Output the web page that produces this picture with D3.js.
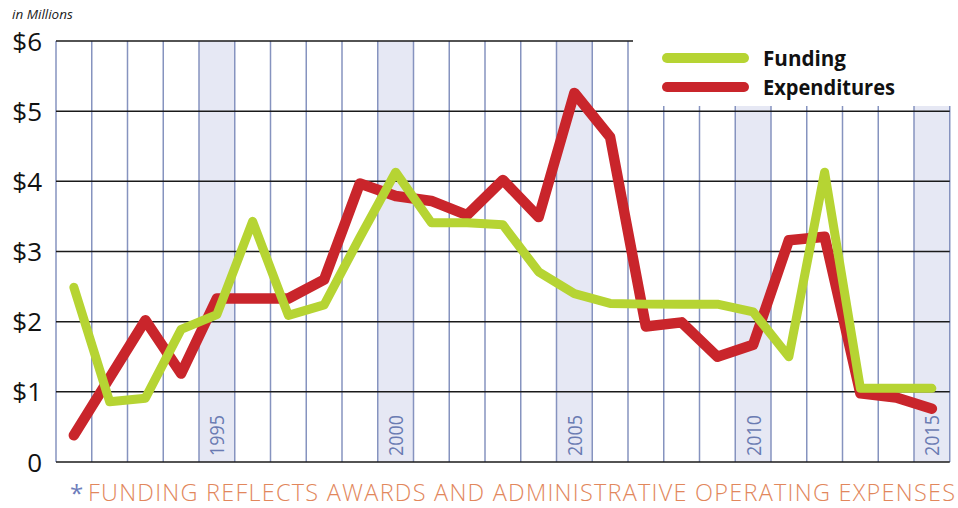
<!DOCTYPE html>
<html>
<head>
<meta charset="utf-8">
<script src="https://cdn.jsdelivr.net/npm/d3@7"></script>
<style>
  body { margin: 0; background: #fff; }
  svg { display: block; }
</style>
</head>
<body>
<svg id="chart" width="958" height="508"></svg>
<script>
// data
var years = d3.range(1991, 2016);
var funding = [2.49, 0.86, 0.91, 1.89, 2.1, 3.43, 2.09, 2.24, 3.2, 4.13,
               3.41, 3.41, 3.38, 2.71, 2.4, 2.26, 2.25, 2.25, 2.25, 2.14,
               1.5, 4.13, 1.05, 1.05, 1.05];
var expenditures = [0.38, 1.2, 2.02, 1.26, 2.33, 2.33, 2.33, 2.6, 3.97, 3.79,
                    3.72, 3.52, 4.02, 3.49, 5.26, 4.63, 1.93, 1.99, 1.5, 1.67,
                    3.16, 3.21, 0.98, 0.92, 0.76];
var yTicks = [0, 1, 2, 3, 4, 5, 6];
var yTickLabels = ["0", "$1", "$2", "$3", "$4", "$5", "$6"];
var labelYears = [1995, 2000, 2005, 2010, 2015];
var footnote = "FUNDING REFLECTS AWARDS AND ADMINISTRATIVE OPERATING EXPENSES";

var svg = d3.select("#chart");

var plotLeft = 56, plotRight = 949.75, plotTop = 41, plotBottom = 462;
var legendCutX = 628, legendCutY = 106;

var x = d3.scaleBand()
    .domain(years)
    .range([plotLeft, plotRight]);

var y = d3.scaleLinear()
    .domain([0, 6])
    .range([plotBottom, plotTop]);

var cx = function(yr) { return x(yr) + x.bandwidth() / 2; };

// top of a column (columns under the legend are cut short)
var colTop = function(xpos) { return xpos >= legendCutX + 1 ? legendCutY : plotTop; };

// shaded year bands
svg.append("g").selectAll("rect")
    .data(labelYears)
    .enter().append("rect")
    .attr("x", d => x(d))
    .attr("y", d => colTop(x(d)))
    .attr("width", x.bandwidth())
    .attr("height", d => plotBottom - colTop(x(d)))
    .attr("fill", "#e6e8f4");

// vertical grid lines
var edges = years.map(d => x(d)).concat([plotRight]);
svg.append("g").selectAll("line")
    .data(edges)
    .enter().append("line")
    .attr("x1", d => d)
    .attr("x2", d => d)
    .attr("y1", d => colTop(d))
    .attr("y2", plotBottom)
    .attr("stroke", "#8693bf")
    .attr("stroke-width", 1.5);

// horizontal grid lines
svg.append("g").selectAll("line")
    .data(yTicks)
    .enter().append("line")
    .attr("x1", plotLeft)
    .attr("x2", d => d === 6 ? legendCutX + 5 : plotRight)
    .attr("y1", d => y(d))
    .attr("y2", d => y(d))
    .attr("stroke", "#1a1a1a")
    .attr("stroke-width", 1.5);

// year labels
svg.append("g").selectAll("text")
    .data(labelYears)
    .enter().append("text")
    .attr("transform", d => "translate(" + cx(d) + "," + (plotBottom - 6) + ") rotate(-90)")
    .attr("dominant-baseline", "central")
    .attr("textLength", 41)
    .attr("lengthAdjust", "spacingAndGlyphs")
    .attr("font-family", "'Open Sans', sans-serif")
    .attr("font-size", 20)
    .attr("fill", "#6a7bb2")
    .text(d => d);

// y axis labels
svg.append("g").selectAll("text")
    .data(yTicks)
    .enter().append("text")
    .attr("x", 42)
    .attr("y", d => y(d) + 9.5)
    .attr("text-anchor", "end")
    .attr("font-family", "'Open Sans', sans-serif")
    .attr("font-size", 26)
    .attr("fill", "#111")
    .text((d, i) => yTickLabels[i]);

svg.append("text")
    .attr("x", 12)
    .attr("y", 19)
    .attr("font-family", "'Open Sans', sans-serif")
    .attr("font-style", "italic")
    .attr("font-size", 13.5)
    .attr("fill", "#222")
    .text("in Millions");

// lines
var line = d3.line()
    .x((d, i) => cx(years[i]))
    .y(d => y(d));

svg.append("path")
    .datum(expenditures)
    .attr("d", line)
    .attr("fill", "none")
    .attr("stroke", "#c9252b")
    .attr("stroke-width", 10.5)
    .attr("stroke-linejoin", "round")
    .attr("stroke-linecap", "round");

svg.append("path")
    .datum(funding)
    .attr("d", line)
    .attr("fill", "none")
    .attr("stroke", "#b6d433")
    .attr("stroke-width", 9)
    .attr("stroke-linejoin", "round")
    .attr("stroke-linecap", "round");

// legend
var legend = [
    {name: "Funding", color: "#b6d433", y: 58, w: 83},
    {name: "Expenditures", color: "#c9252b", y: 87, w: 132}
];
legend.forEach(d => {
    svg.append("line")
        .attr("x1", 667)
        .attr("x2", 744)
        .attr("y1", d.y)
        .attr("y2", d.y)
        .attr("stroke", d.color)
        .attr("stroke-width", 10)
        .attr("stroke-linecap", "round");
    svg.append("text")
        .attr("x", 763)
        .attr("y", d.y + 8)
        .attr("textLength", d.w)
        .attr("lengthAdjust", "spacingAndGlyphs")
        .attr("font-family", "'Open Sans', sans-serif")
        .attr("font-weight", "bold")
        .attr("font-size", 21)
        .attr("fill", "#111")
        .text(d.name);
});

// footnote
svg.append("text")
    .attr("x", 70)
    .attr("y", 502)
    .attr("font-family", "'Open Sans', sans-serif")
    .attr("font-size", 24)
    .attr("fill", "#6d7dbb")
    .text("*");

svg.append("text")
    .attr("x", 88)
    .attr("y", 501)
    .attr("textLength", 867)
    .attr("lengthAdjust", "spacing")
    .attr("font-family", "'Open Sans', sans-serif")
    .attr("font-weight", 300)
    .attr("font-size", 23.5)
    .attr("fill", "#e2875c")
    .text(footnote);
</script>
</body>
</html>
